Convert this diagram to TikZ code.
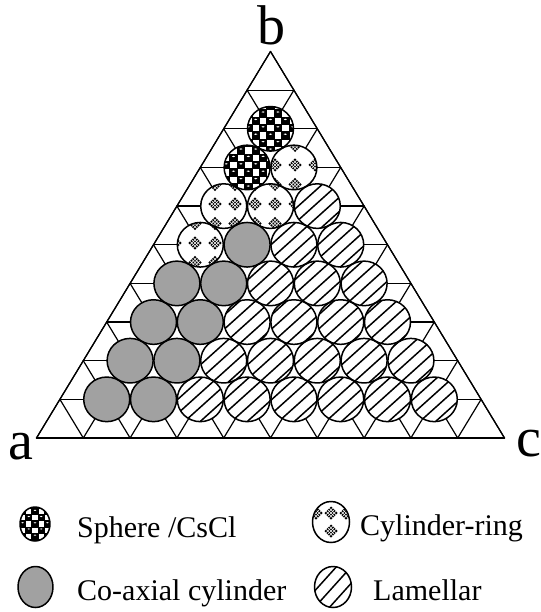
\documentclass[tikz,border=0pt]{standalone}
\usepackage{fontspec}
\setmainfont{Liberation Serif}
\tikzset{
  grid line/.style={line width=1.2pt},
  ring/.style={line width=1.5pt},
  hatch/.style={line width=1.5pt},
  big label/.style={font=\fontsize{56}{60}\selectfont, inner sep=0pt, anchor=base},
  legend text/.style={font=\fontsize{30}{34}\selectfont, inner sep=0pt, anchor=base west},
}
% diamond cluster of small dots
\newcommand\dcl[2]{%
  \begin{scope}[shift={(#1,#2)},rotate=45]
    \fill[black] (-4.6,-4.6) rectangle (4.6,4.6);
    \foreach \ww in {-2.3,0,2.3}{\draw[white,line width=0.45pt] (\ww,-4.6)--(\ww,4.6) (-4.6,\ww)--(4.6,\ww);}
  \end{scope}}
% black checker cell with a white highlight
\newcommand\ckcell[3]{%
  \fill[black] ({#1-0.5},{#2-0.5}) rectangle ++({#3+1},{#3+1});
  \fill[white] ({#1+#3/2},{#2+#3*0.3}) ellipse [x radius={#3*0.22}, y radius={#3*0.1}];}
\begin{document}
\begin{tikzpicture}[x=1pt,y=-1pt,line join=round,line cap=round]
\useasboundingbox (0,0) rectangle (540,612);
\def\X{270.5}\def\Y{51.5}\def\D{46.8}\def\RH{38.65}
\def\rx{23}\def\ry{22.3}
\coordinate (apex) at (\X,\Y);
\foreach \i in {0,...,10}{
  \coordinate (B\i) at ({\X+(\i-5)*\D},{\Y+10*\RH});
  \coordinate (L\i) at ({\X-\i*\D/2},{\Y+\i*\RH});
  \coordinate (R\i) at ({\X+\i*\D/2},{\Y+\i*\RH});
}
% triangular grid
\foreach \i in {1,...,10} \draw[grid line] (L\i) -- (R\i);
\foreach \i in {0,...,10}{
  \pgfmathtruncatemacro\ii{10-\i}
  \draw[grid line] (B\i) -- (R\i) (B\i) -- (L\ii);
}
\draw[grid line] (B0) -- (B10) -- (apex) -- cycle;
% circle centres
\foreach \j in {2,...,9}{
  \pgfmathtruncatemacro\jm{\j-1}
  \foreach \i in {1,...,\jm}{
    \coordinate (c-\j-\i) at ({\X+(\i-\j/2)*\D},{\Y+\j*\RH});
  }
}
\def\Slist{2-1,3-1}
\def\Clist{3-2,4-1,4-2,5-1}
\def\Glist{5-2,6-1,6-2,7-1,7-2,8-1,8-2,9-1,9-2}
\def\Llist{4-3,5-3,5-4,6-3,6-4,6-5,7-3,7-4,7-5,7-6,8-3,8-4,8-5,8-6,8-7,9-3,9-4,9-5,9-6,9-7,9-8}
% white discs
\foreach \j in {2,...,9}{
  \pgfmathtruncatemacro\jm{\j-1}
  \foreach \i in {1,...,\jm}{
    \fill[white] (c-\j-\i) ellipse [x radius=\rx, y radius=\ry];
  }
}
% co-axial cylinder
\foreach \p in \Glist \fill[black!37] (c-\p) ellipse [x radius=\rx, y radius=\ry];
% sphere / CsCl
\begin{scope}
  \clip \foreach \p in \Slist {(c-\p) ellipse [x radius=\rx, y radius=\ry]};
  \foreach \k in {0,...,15}{\foreach \mm in {0,2,...,14}{
    \pgfmathtruncatemacro\m{\mm+mod(\k,2)}
    \ckcell{215+\k*7.4}{95+\m*7.4}{7.4}
  }}
\end{scope}
% cylinder-ring
\begin{scope}
  \clip \foreach \p in \Clist {(c-\p) ellipse [x radius=\rx, y radius=\ry]};
  \foreach \k in {-7,...,2}{\foreach \m in {-4,...,6}{\dcl{295+\k*20}{165+\m*19.5}}}
\end{scope}
% lamellar
\begin{scope}
  \clip \foreach \p in \Llist {(c-\p) ellipse [x radius=\rx, y radius=\ry]};
  \begin{scope}[shift={(360,320)},rotate=42]
    \foreach \k in {-25,...,25} \draw[hatch] (-260,\k*10.5) -- (260,\k*10.5);
  \end{scope}
\end{scope}
% outlines
\foreach \j in {2,...,9}{
  \pgfmathtruncatemacro\jm{\j-1}
  \foreach \i in {1,...,\jm}{
    \draw[ring] (c-\j-\i) ellipse [x radius=\rx, y radius=\ry];
  }
}
% corner labels
\node[big label] (lb) at (271,45) {b};
\node[big label] (la) at (21,459) {a};
\node[big label] (lc) at (529,456) {c};
% legend
\coordinate (lgS) at (35,524);
\coordinate (lgC) at (331,522);
\coordinate (lgG) at (35.5,587);
\coordinate (lgL) at (333,587);
\begin{scope}
  \clip (lgS) ellipse [x radius=15, y radius=17];
  \foreach \k in {0,...,6}{\foreach \mm in {0,2,...,6}{
    \pgfmathtruncatemacro\m{\mm+mod(\k,2)}
    \ckcell{13.3+\k*6.2}{502.3+\m*6.2}{6.2}
  }}
\end{scope}
\draw[ring] (lgS) ellipse [x radius=15, y radius=17];
\begin{scope}
  \clip (lgC) ellipse [x radius=18.5, y radius=20.5];
  \dcl{316}{513}\dcl{331}{513}\dcl{346}{513}\dcl{331}{531}
\end{scope}
\draw[ring] (lgC) ellipse [x radius=18.5, y radius=20.5];
\fill[black!37] (lgG) ellipse [x radius=17.5, y radius=20.5];
\draw[ring] (lgG) ellipse [x radius=17.5, y radius=20.5];
\begin{scope}
  \clip (lgL) ellipse [x radius=18.5, y radius=20.5];
  \begin{scope}[shift={(lgL)},rotate=48]
    \foreach \k in {-1,0,1} \draw[hatch] (-30,\k*11) -- (30,\k*11);
  \end{scope}
\end{scope}
\draw[ring] (lgL) ellipse [x radius=18.5, y radius=20.5];
\node[legend text] (tS) at (77,537) {Sphere /CsCl};
\node[legend text] (tC) at (360,535) {Cylinder-ring};
\node[legend text] (tG) at (77,600) {Co-axial cylinder};
\node[legend text] (tL) at (373,600) {Lamellar};
\end{tikzpicture}
\end{document}
